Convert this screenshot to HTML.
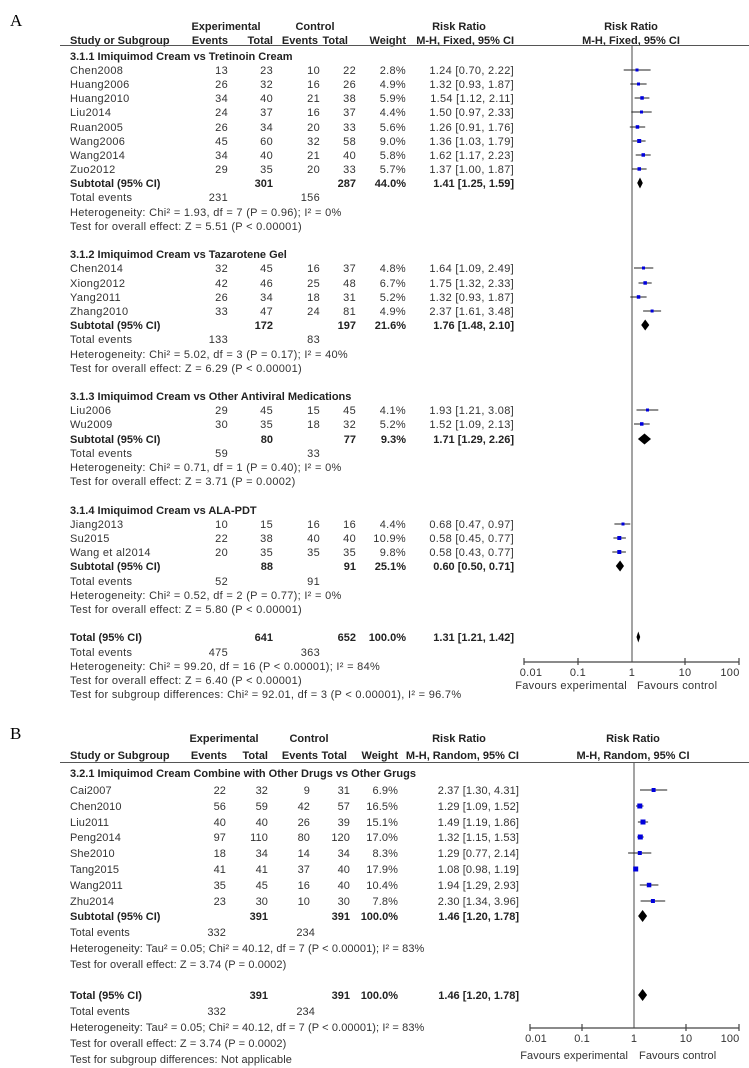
<!DOCTYPE html>
<html><head><meta charset="utf-8"><style>
html,body{margin:0;padding:0;background:#fff;}
svg{display:block;}
text{font-family:"Liberation Sans",Arial,sans-serif;font-size:11px;fill:#333;letter-spacing:0.3px;}
.gb text{letter-spacing:0.1px;}
.b{font-weight:bold;letter-spacing:0 !important;fill:#222;}
.e{text-anchor:end;}
.m{text-anchor:middle;}
.L{font-family:"Liberation Serif",serif;font-size:17px;fill:#000;letter-spacing:0;}
</style></head><body>
<svg width="749" height="1068" viewBox="0 0 749 1068" xmlns="http://www.w3.org/2000/svg">
<!-- ================= A ================= -->
<text class="L" x="10" y="26">A</text>
<text class="b m" x="226" y="30">Experimental</text>
<text class="b m" x="315" y="30">Control</text>
<text class="b m" x="459" y="30">Risk Ratio</text>
<text class="b m" x="631" y="30">Risk Ratio</text>
<text class="b" x="70" y="44">Study or Subgroup</text>
<text class="b e" x="228" y="44">Events</text>
<text class="b e" x="273" y="44">Total</text>
<text class="b e" x="318" y="44">Events</text>
<text class="b e" x="348" y="44">Total</text>
<text class="b e" x="406" y="44">Weight</text>
<text class="b e" x="514" y="44">M-H, Fixed, 95% CI</text>
<text class="b m" x="631" y="44">M-H, Fixed, 95% CI</text>
<line x1="60" y1="45.5" x2="749" y2="45.5" stroke="#555" stroke-width="1"/>
<line x1="632" y1="46" x2="632" y2="662" stroke="#666" stroke-width="1.2"/>

<text class="b" x="70" y="60">3.1.1 Imiquimod Cream vs Tretinoin Cream</text>
<text x="70" y="74">Chen2008</text><text class="e" x="228" y="74">13</text><text class="e" x="273" y="74">23</text><text class="e" x="320" y="74">10</text><text class="e" x="356" y="74">22</text><text class="e" x="406" y="74">2.8%</text><text class="e" x="514" y="74">1.24 [0.70, 2.22]</text>
<text x="70" y="88">Huang2006</text><text class="e" x="228" y="88">26</text><text class="e" x="273" y="88">32</text><text class="e" x="320" y="88">16</text><text class="e" x="356" y="88">26</text><text class="e" x="406" y="88">4.9%</text><text class="e" x="514" y="88">1.32 [0.93, 1.87]</text>
<text x="70" y="102">Huang2010</text><text class="e" x="228" y="102">34</text><text class="e" x="273" y="102">40</text><text class="e" x="320" y="102">21</text><text class="e" x="356" y="102">38</text><text class="e" x="406" y="102">5.9%</text><text class="e" x="514" y="102">1.54 [1.12, 2.11]</text>
<text x="70" y="116">Liu2014</text><text class="e" x="228" y="116">24</text><text class="e" x="273" y="116">37</text><text class="e" x="320" y="116">16</text><text class="e" x="356" y="116">37</text><text class="e" x="406" y="116">4.4%</text><text class="e" x="514" y="116">1.50 [0.97, 2.33]</text>
<text x="70" y="131">Ruan2005</text><text class="e" x="228" y="131">26</text><text class="e" x="273" y="131">34</text><text class="e" x="320" y="131">20</text><text class="e" x="356" y="131">33</text><text class="e" x="406" y="131">5.6%</text><text class="e" x="514" y="131">1.26 [0.91, 1.76]</text>
<text x="70" y="145">Wang2006</text><text class="e" x="228" y="145">45</text><text class="e" x="273" y="145">60</text><text class="e" x="320" y="145">32</text><text class="e" x="356" y="145">58</text><text class="e" x="406" y="145">9.0%</text><text class="e" x="514" y="145">1.36 [1.03, 1.79]</text>
<text x="70" y="159">Wang2014</text><text class="e" x="228" y="159">34</text><text class="e" x="273" y="159">40</text><text class="e" x="320" y="159">21</text><text class="e" x="356" y="159">40</text><text class="e" x="406" y="159">5.8%</text><text class="e" x="514" y="159">1.62 [1.17, 2.23]</text>
<text x="70" y="173">Zuo2012</text><text class="e" x="228" y="173">29</text><text class="e" x="273" y="173">35</text><text class="e" x="320" y="173">20</text><text class="e" x="356" y="173">33</text><text class="e" x="406" y="173">5.7%</text><text class="e" x="514" y="173">1.37 [1.00, 1.87]</text>
<text class="b" x="70" y="187">Subtotal (95% CI)</text><text class="b e" x="273" y="187">301</text><text class="b e" x="356" y="187">287</text><text class="b e" x="406" y="187">44.0%</text><text class="b e" x="514" y="187">1.41 [1.25, 1.59]</text>
<text x="70" y="201">Total events</text><text class="e" x="228" y="201">231</text><text class="e" x="320" y="201">156</text>
<text x="70" y="216">Heterogeneity: Chi² = 1.93, df = 7 (P = 0.96); I² = 0%</text>
<text x="70" y="230">Test for overall effect: Z = 5.51 (P &lt; 0.00001)</text>

<text class="b" x="70" y="258">3.1.2 Imiquimod Cream vs Tazarotene Gel</text>
<text x="70" y="272">Chen2014</text><text class="e" x="228" y="272">32</text><text class="e" x="273" y="272">45</text><text class="e" x="320" y="272">16</text><text class="e" x="356" y="272">37</text><text class="e" x="406" y="272">4.8%</text><text class="e" x="514" y="272">1.64 [1.09, 2.49]</text>
<text x="70" y="287">Xiong2012</text><text class="e" x="228" y="287">42</text><text class="e" x="273" y="287">46</text><text class="e" x="320" y="287">25</text><text class="e" x="356" y="287">48</text><text class="e" x="406" y="287">6.7%</text><text class="e" x="514" y="287">1.75 [1.32, 2.33]</text>
<text x="70" y="301">Yang2011</text><text class="e" x="228" y="301">26</text><text class="e" x="273" y="301">34</text><text class="e" x="320" y="301">18</text><text class="e" x="356" y="301">31</text><text class="e" x="406" y="301">5.2%</text><text class="e" x="514" y="301">1.32 [0.93, 1.87]</text>
<text x="70" y="315">Zhang2010</text><text class="e" x="228" y="315">33</text><text class="e" x="273" y="315">47</text><text class="e" x="320" y="315">24</text><text class="e" x="356" y="315">81</text><text class="e" x="406" y="315">4.9%</text><text class="e" x="514" y="315">2.37 [1.61, 3.48]</text>
<text class="b" x="70" y="329">Subtotal (95% CI)</text><text class="b e" x="273" y="329">172</text><text class="b e" x="356" y="329">197</text><text class="b e" x="406" y="329">21.6%</text><text class="b e" x="514" y="329">1.76 [1.48, 2.10]</text>
<text x="70" y="343">Total events</text><text class="e" x="228" y="343">133</text><text class="e" x="320" y="343">83</text>
<text x="70" y="358">Heterogeneity: Chi² = 5.02, df = 3 (P = 0.17); I² = 40%</text>
<text x="70" y="372">Test for overall effect: Z = 6.29 (P &lt; 0.00001)</text>

<text class="b" x="70" y="400">3.1.3 Imiquimod Cream vs Other Antiviral Medications</text>
<text x="70" y="414">Liu2006</text><text class="e" x="228" y="414">29</text><text class="e" x="273" y="414">45</text><text class="e" x="320" y="414">15</text><text class="e" x="356" y="414">45</text><text class="e" x="406" y="414">4.1%</text><text class="e" x="514" y="414">1.93 [1.21, 3.08]</text>
<text x="70" y="428">Wu2009</text><text class="e" x="228" y="428">30</text><text class="e" x="273" y="428">35</text><text class="e" x="320" y="428">18</text><text class="e" x="356" y="428">32</text><text class="e" x="406" y="428">5.2%</text><text class="e" x="514" y="428">1.52 [1.09, 2.13]</text>
<text class="b" x="70" y="443">Subtotal (95% CI)</text><text class="b e" x="273" y="443">80</text><text class="b e" x="356" y="443">77</text><text class="b e" x="406" y="443">9.3%</text><text class="b e" x="514" y="443">1.71 [1.29, 2.26]</text>
<text x="70" y="457">Total events</text><text class="e" x="228" y="457">59</text><text class="e" x="320" y="457">33</text>
<text x="70" y="471">Heterogeneity: Chi² = 0.71, df = 1 (P = 0.40); I² = 0%</text>
<text x="70" y="485">Test for overall effect: Z = 3.71 (P = 0.0002)</text>

<text class="b" x="70" y="514">3.1.4 Imiquimod Cream vs ALA-PDT</text>
<text x="70" y="528">Jiang2013</text><text class="e" x="228" y="528">10</text><text class="e" x="273" y="528">15</text><text class="e" x="320" y="528">16</text><text class="e" x="356" y="528">16</text><text class="e" x="406" y="528">4.4%</text><text class="e" x="514" y="528">0.68 [0.47, 0.97]</text>
<text x="70" y="542">Su2015</text><text class="e" x="228" y="542">22</text><text class="e" x="273" y="542">38</text><text class="e" x="320" y="542">40</text><text class="e" x="356" y="542">40</text><text class="e" x="406" y="542">10.9%</text><text class="e" x="514" y="542">0.58 [0.45, 0.77]</text>
<text x="70" y="556">Wang et al2014</text><text class="e" x="228" y="556">20</text><text class="e" x="273" y="556">35</text><text class="e" x="320" y="556">35</text><text class="e" x="356" y="556">35</text><text class="e" x="406" y="556">9.8%</text><text class="e" x="514" y="556">0.58 [0.43, 0.77]</text>
<text class="b" x="70" y="570">Subtotal (95% CI)</text><text class="b e" x="273" y="570">88</text><text class="b e" x="356" y="570">91</text><text class="b e" x="406" y="570">25.1%</text><text class="b e" x="514" y="570">0.60 [0.50, 0.71]</text>
<text x="70" y="585">Total events</text><text class="e" x="228" y="585">52</text><text class="e" x="320" y="585">91</text>
<text x="70" y="599">Heterogeneity: Chi² = 0.52, df = 2 (P = 0.77); I² = 0%</text>
<text x="70" y="613">Test for overall effect: Z = 5.80 (P &lt; 0.00001)</text>

<text class="b" x="70" y="641">Total (95% CI)</text><text class="b e" x="273" y="641">641</text><text class="b e" x="356" y="641">652</text><text class="b e" x="406" y="641">100.0%</text><text class="b e" x="514" y="641">1.31 [1.21, 1.42]</text>
<text x="70" y="656">Total events</text><text class="e" x="228" y="656">475</text><text class="e" x="320" y="656">363</text>
<text x="70" y="670">Heterogeneity: Chi² = 99.20, df = 16 (P &lt; 0.00001); I² = 84%</text>
<text x="70" y="684">Test for overall effect: Z = 6.40 (P &lt; 0.00001)</text>
<text x="70" y="698">Test for subgroup differences: Chi² = 92.01, df = 3 (P &lt; 0.00001), I² = 96.7%</text>

<!-- A plot -->
<g stroke="#222" stroke-width="1">
<line x1="623.7" y1="70" x2="650.6" y2="70"/>
<line x1="630.3" y1="84" x2="646.6" y2="84"/>
<line x1="634.6" y1="98" x2="649.4" y2="98"/>
<line x1="631.3" y1="112" x2="651.7" y2="112"/>
<line x1="629.8" y1="127" x2="645.2" y2="127"/>
<line x1="632.7" y1="141" x2="645.6" y2="141"/>
<line x1="635.7" y1="155" x2="650.7" y2="155"/>
<line x1="632" y1="169" x2="646.6" y2="169"/>
<line x1="634" y1="268" x2="653.3" y2="268"/>
<line x1="638.5" y1="283" x2="651.7" y2="283"/>
<line x1="630.3" y1="297" x2="646.6" y2="297"/>
<line x1="643.1" y1="311" x2="661.1" y2="311"/>
<line x1="636.5" y1="410" x2="658.3" y2="410"/>
<line x1="634" y1="424" x2="649.7" y2="424"/>
<line x1="614.4" y1="524" x2="630.3" y2="524"/>
<line x1="613.4" y1="538" x2="625.9" y2="538"/>
<line x1="612.3" y1="552" x2="625.9" y2="552"/>
</g>
<g fill="#0000dd">
<rect x="635.5" y="68.5" width="3" height="3"/>
<rect x="637" y="82.5" width="3" height="3"/>
<rect x="640.3" y="96.2" width="3.5" height="3.5"/>
<rect x="640" y="110.5" width="3" height="3"/>
<rect x="635.7" y="125.2" width="3.5" height="3.5"/>
<rect x="637.2" y="139" width="4" height="4"/>
<rect x="641.5" y="153.2" width="3.5" height="3.5"/>
<rect x="637.5" y="167.2" width="3.5" height="3.5"/>
<rect x="642" y="266.5" width="3" height="3"/>
<rect x="643.4" y="281.2" width="3.5" height="3.5"/>
<rect x="636.8" y="295.2" width="3.5" height="3.5"/>
<rect x="650.6" y="309.5" width="3" height="3"/>
<rect x="646" y="408.5" width="3" height="3"/>
<rect x="640" y="422.2" width="3.5" height="3.5"/>
<rect x="621.5" y="522.5" width="3" height="3"/>
<rect x="617.3" y="536" width="4" height="4"/>
<rect x="617.3" y="550" width="4" height="4"/>
</g>
<g fill="#000">
<polygon points="637.2,183 640,177.5 642.8,183 640,188.5"/>
<polygon points="641.2,325 645.2,319.5 649.3,325 645.2,330.5"/>
<polygon points="637.9,439 644.5,433.5 651,439 644.5,444.5"/>
<polygon points="615.8,566 620.1,560.5 624,566 620.1,571.5"/>
<polygon points="636.5,637 638.3,631.5 640.2,637 638.3,642.5"/>
</g>
<g stroke="#444" stroke-width="1.2">
<line x1="524" y1="662" x2="739" y2="662"/>
<line x1="524" y1="658" x2="524" y2="665"/>
<line x1="578" y1="658" x2="578" y2="665"/>
<line x1="685" y1="658" x2="685" y2="665"/>
<line x1="739" y1="658" x2="739" y2="665"/>
</g>
<text class="m" x="531" y="676">0.01</text>
<text class="m" x="578" y="676">0.1</text>
<text class="m" x="632" y="676">1</text>
<text class="m" x="685" y="676">10</text>
<text class="m" x="730" y="676">100</text>
<text class="e" x="627" y="689">Favours experimental</text>
<text x="637" y="689">Favours control</text>

<!-- ================= B ================= -->
<g class="gb">
<text class="L" x="10" y="739">B</text>
<text class="b m" x="224" y="742">Experimental</text>
<text class="b m" x="309" y="742">Control</text>
<text class="b m" x="459" y="742">Risk Ratio</text>
<text class="b m" x="633" y="742">Risk Ratio</text>
<text class="b" x="70" y="759">Study or Subgroup</text>
<text class="b e" x="227" y="759">Events</text>
<text class="b e" x="268" y="759">Total</text>
<text class="b e" x="318" y="759">Events</text>
<text class="b e" x="347" y="759">Total</text>
<text class="b e" x="398" y="759">Weight</text>
<text class="b e" x="519" y="759">M-H, Random, 95% CI</text>
<text class="b m" x="633" y="759">M-H, Random, 95% CI</text>
<line x1="60" y1="762.5" x2="749" y2="762.5" stroke="#555" stroke-width="1"/>
<line x1="634" y1="763" x2="634" y2="1028" stroke="#666" stroke-width="1.2"/>

<text class="b" x="70" y="777">3.2.1 Imiquimod Cream Combine with Other Drugs vs Other Grugs</text>
<text x="70" y="794">Cai2007</text><text class="e" x="226" y="794">22</text><text class="e" x="268" y="794">32</text><text class="e" x="310" y="794">9</text><text class="e" x="350" y="794">31</text><text class="e" x="398" y="794">6.9%</text><text class="e" x="519" y="794">2.37 [1.30, 4.31]</text>
<text x="70" y="810">Chen2010</text><text class="e" x="226" y="810">56</text><text class="e" x="268" y="810">59</text><text class="e" x="310" y="810">42</text><text class="e" x="350" y="810">57</text><text class="e" x="398" y="810">16.5%</text><text class="e" x="519" y="810">1.29 [1.09, 1.52]</text>
<text x="70" y="826">Liu2011</text><text class="e" x="226" y="826">40</text><text class="e" x="268" y="826">40</text><text class="e" x="310" y="826">26</text><text class="e" x="350" y="826">39</text><text class="e" x="398" y="826">15.1%</text><text class="e" x="519" y="826">1.49 [1.19, 1.86]</text>
<text x="70" y="841">Peng2014</text><text class="e" x="226" y="841">97</text><text class="e" x="268" y="841">110</text><text class="e" x="310" y="841">80</text><text class="e" x="350" y="841">120</text><text class="e" x="398" y="841">17.0%</text><text class="e" x="519" y="841">1.32 [1.15, 1.53]</text>
<text x="70" y="857">She2010</text><text class="e" x="226" y="857">18</text><text class="e" x="268" y="857">34</text><text class="e" x="310" y="857">14</text><text class="e" x="350" y="857">34</text><text class="e" x="398" y="857">8.3%</text><text class="e" x="519" y="857">1.29 [0.77, 2.14]</text>
<text x="70" y="873">Tang2015</text><text class="e" x="226" y="873">41</text><text class="e" x="268" y="873">41</text><text class="e" x="310" y="873">37</text><text class="e" x="350" y="873">40</text><text class="e" x="398" y="873">17.9%</text><text class="e" x="519" y="873">1.08 [0.98, 1.19]</text>
<text x="70" y="889">Wang2011</text><text class="e" x="226" y="889">35</text><text class="e" x="268" y="889">45</text><text class="e" x="310" y="889">16</text><text class="e" x="350" y="889">40</text><text class="e" x="398" y="889">10.4%</text><text class="e" x="519" y="889">1.94 [1.29, 2.93]</text>
<text x="70" y="905">Zhu2014</text><text class="e" x="226" y="905">23</text><text class="e" x="268" y="905">30</text><text class="e" x="310" y="905">10</text><text class="e" x="350" y="905">30</text><text class="e" x="398" y="905">7.8%</text><text class="e" x="519" y="905">2.30 [1.34, 3.96]</text>
<text class="b" x="70" y="920">Subtotal (95% CI)</text><text class="b e" x="268" y="920">391</text><text class="b e" x="350" y="920">391</text><text class="b e" x="398" y="920">100.0%</text><text class="b e" x="519" y="920">1.46 [1.20, 1.78]</text>
<text x="70" y="936">Total events</text><text class="e" x="226" y="936">332</text><text class="e" x="315" y="936">234</text>
<text x="70" y="952">Heterogeneity: Tau² = 0.05; Chi² = 40.12, df = 7 (P &lt; 0.00001); I² = 83%</text>
<text x="70" y="968">Test for overall effect: Z = 3.74 (P = 0.0002)</text>

<text class="b" x="70" y="999">Total (95% CI)</text><text class="b e" x="268" y="999">391</text><text class="b e" x="350" y="999">391</text><text class="b e" x="398" y="999">100.0%</text><text class="b e" x="519" y="999">1.46 [1.20, 1.78]</text>
<text x="70" y="1015">Total events</text><text class="e" x="226" y="1015">332</text><text class="e" x="315" y="1015">234</text>
<text x="70" y="1031">Heterogeneity: Tau² = 0.05; Chi² = 40.12, df = 7 (P &lt; 0.00001); I² = 83%</text>
<text x="70" y="1047">Test for overall effect: Z = 3.74 (P = 0.0002)</text>
<text x="70" y="1063">Test for subgroup differences: Not applicable</text>

<g stroke="#222" stroke-width="1">
<line x1="640" y1="790" x2="667.2" y2="790"/>
<line x1="636" y1="806" x2="643.5" y2="806"/>
<line x1="637.9" y1="822" x2="648.1" y2="822"/>
<line x1="637.2" y1="837" x2="643.7" y2="837"/>
<line x1="628.1" y1="853" x2="651.3" y2="853"/>
<line x1="633.5" y1="869" x2="637.9" y2="869"/>
<line x1="639.8" y1="885" x2="658.4" y2="885"/>
<line x1="640.6" y1="901" x2="665.2" y2="901"/>
</g>
<g fill="#0000dd">
<rect x="651.6" y="788" width="4" height="4"/>
<rect x="637.3" y="803.5" width="5" height="5"/>
<rect x="640.5" y="819.5" width="5" height="5"/>
<rect x="637.8" y="834.5" width="5" height="5"/>
<rect x="637.8" y="851" width="4" height="4"/>
<rect x="633.2" y="866.5" width="5" height="5"/>
<rect x="646.8" y="882.8" width="4.5" height="4.5"/>
<rect x="650.9" y="899" width="4" height="4"/>
</g>
<g fill="#000">
<polygon points="638.1,916 642.6,910 647.1,916 642.6,922"/>
<polygon points="638.1,995 642.6,989 647.1,995 642.6,1001"/>
</g>
<g stroke="#444" stroke-width="1.2">
<line x1="530" y1="1028" x2="739" y2="1028"/>
<line x1="530" y1="1024" x2="530" y2="1031"/>
<line x1="582" y1="1024" x2="582" y2="1031"/>
<line x1="686" y1="1024" x2="686" y2="1031"/>
<line x1="739" y1="1024" x2="739" y2="1031"/>
</g>
<text class="m" x="536" y="1042">0.01</text>
<text class="m" x="582" y="1042">0.1</text>
<text class="m" x="634" y="1042">1</text>
<text class="m" x="686" y="1042">10</text>
<text class="m" x="730" y="1042">100</text>
<text class="e" x="628" y="1059">Favours experimental</text>
<text x="639" y="1059">Favours control</text>
</g>
</svg>
</body></html>
